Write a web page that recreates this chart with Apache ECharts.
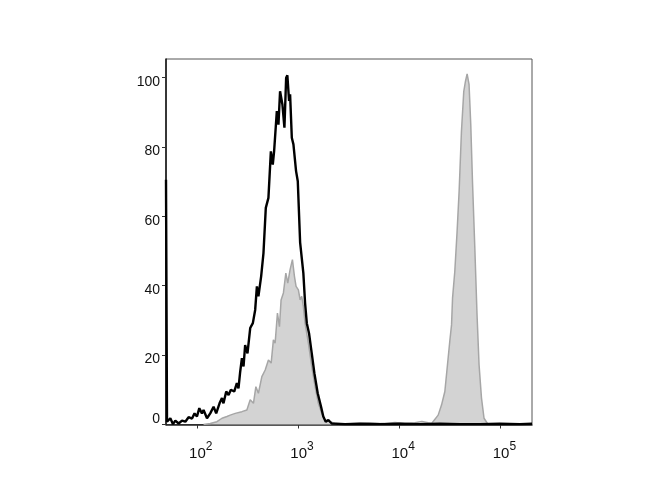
<!DOCTYPE html>
<html>
<head>
<meta charset="utf-8">
<script src="https://cdn.jsdelivr.net/npm/echarts@6/dist/echarts.min.js"></script>
<style>
  html, body { margin: 0; padding: 0; background: #fff; }
  #chart { width: 670px; height: 500px; }
</style>
</head>
<body>
<div id="chart"></div>
<script>
// x values are log10 of fluorescence intensity, y values are % of max
const xDecades = [2, 3, 4, 5];
const yTicks = [0, 20, 40, 60, 80, 100];
const xRange = [1.696, 5.312];
const yRange = [0, 105.3];

// unstained / isotype control (black open histogram)
const controlHist = [
  [1.696,70.5],[1.706,0.8],[1.739,1.8],[1.765,0.1],[1.788,1.1],[1.821,0.3],[1.854,1.1],[1.887,0.8],
  [1.919,2.1],[1.953,1.7],[1.978,3.2],[2.002,2.3],[2.025,4.7],[2.051,3.2],[2.067,4.2],[2.101,1.8],
  [2.133,3.2],[2.166,5.1],[2.192,3.2],[2.225,6.1],[2.249,7.6],[2.264,6.1],[2.291,9.5],[2.314,8.5],
  [2.337,10.0],[2.370,9.5],[2.396,11.9],[2.412,10.4],[2.429,15.2],[2.446,19.1],[2.462,16.7],[2.478,22.9],
  [2.501,20.5],[2.528,27.8],[2.554,29.2],[2.577,33.0],[2.594,39.8],[2.609,36.9],[2.636,42.7],[2.659,49.4],
  [2.682,62.4],[2.708,65.3],[2.732,78.7],[2.751,74.9],[2.764,78.7],[2.791,90.3],[2.807,86.4],[2.823,96.0],
  [2.846,92.2],[2.866,85.5],[2.883,99.9],[2.895,100.6],[2.912,93.2],[2.922,95.1],[2.939,82.6],[2.955,80.7],
  [2.981,73.0],[2.998,70.1],[3.021,52.5],[3.053,43.6],[3.070,35.0],[3.087,29.2],[3.109,26.3],[3.136,20.5],
  [3.162,14.8],[3.195,9.0],[3.228,5.1],[3.250,2.3],[3.274,0.8],[3.300,1.3],[3.333,0.3],[3.464,0.1],
  [3.612,0.2],[3.809,0.1],[4.007,0.2],[4.204,0.1],[4.401,0.2],[4.598,0.1],[4.796,0.1],[4.994,0.2],
  [5.191,0.1],[5.312,0.2]
];

// stained sample (grey filled histogram)
const stainedHist = [
  [2.067,0.0],[2.133,0.3],[2.199,0.8],[2.249,1.8],[2.298,2.3],[2.330,2.7],[2.380,3.2],[2.446,3.7],
  [2.495,4.2],[2.528,7.1],[2.560,6.1],[2.584,10.9],[2.609,9.0],[2.643,13.8],[2.676,15.7],[2.708,18.6],
  [2.735,17.7],[2.757,24.4],[2.774,23.4],[2.797,32.1],[2.817,28.2],[2.833,35.9],[2.856,37.9],[2.880,43.6],
  [2.899,40.7],[2.922,44.6],[2.945,47.5],[2.965,42.7],[2.981,39.8],[3.004,38.8],[3.021,35.9],[3.037,36.9],
  [3.053,34.0],[3.070,29.2],[3.103,23.4],[3.136,16.7],[3.169,10.9],[3.201,6.1],[3.235,3.2],[3.267,1.3],
  [3.317,0.8],[3.366,0.3],[3.514,0.2],[3.711,0.4],[3.859,0.2],[3.958,0.6],[4.056,0.3],[4.155,0.5],
  [4.224,0.9],[4.286,0.5],[4.320,0.3],[4.385,2.7],[4.418,5.6],[4.451,9.5],[4.483,19.0],[4.500,24.0],
  [4.517,28.7],[4.527,36.4],[4.549,44.0],[4.572,55.6],[4.592,67.2],[4.615,84.5],[4.638,96.0],[4.655,98.9],
  [4.671,101.0],[4.690,98.0],[4.707,86.4],[4.724,70.0],[4.747,50.9],[4.769,31.6],[4.789,17.2],[4.813,7.6],
  [4.838,1.8],[4.878,0.0]
];

const chart = echarts.init(document.getElementById('chart'));
const font = 'Liberation Sans, Arial, sans-serif';
chart.setOption({
  animation: false,
  backgroundColor: '#ffffff',
  grid: {
    left: 166, right: 138, top: 59, bottom: 75.5,
    show: true, borderColor: '#555', borderWidth: 1, backgroundColor: 'transparent'
  },
  xAxis: {
    type: 'value',
    min: xRange[0], max: xRange[1],
    splitLine: { show: false },
    axisLine: { show: true, onZero: false, lineStyle: { color: '#222', width: 1.5 } },
    axisTick: { show: true, customValues: xDecades, length: 4, lineStyle: { color: '#333' } },
    axisLabel: {
      customValues: xDecades,
      margin: 16,
      formatter: v => '{b|10}{e|' + v + '}',
      rich: {
        b: { fontSize: 15, fontFamily: font, color: '#111', padding: [0, 0, 0, 8] },
        e: { fontSize: 12, fontFamily: font, color: '#111', padding: [0, 0, 14, 0] }
      }
    }
  },
  yAxis: {
    type: 'value',
    min: yRange[0], max: yRange[1],
    splitLine: { show: false },
    axisLine: { show: true, lineStyle: { color: '#111', width: 1.5 } },
    axisTick: { show: true, customValues: yTicks, length: 4, lineStyle: { color: '#333' } },
    axisLabel: {
      customValues: yTicks,
      margin: 6,
      formatter: v => v === 0 ? '{z|0}' : '{n|' + v + '}',
      rich: {
        n: { fontSize: 14, fontFamily: font, color: '#111', padding: [9, 0, 0, 0] },
        z: { fontSize: 14, fontFamily: font, color: '#111', padding: [0, 0, 10, 0] }
      }
    }
  },
  series: [
    {
      type: 'line',
      data: stainedHist,
      showSymbol: false,
      silent: true,
      lineStyle: { color: '#a6a6a6', width: 1.5 },
      areaStyle: { color: '#d3d3d3', opacity: 1 },
      z: 2
    },
    {
      type: 'line',
      data: controlHist,
      showSymbol: false,
      silent: true,
      clip: false,
      lineStyle: { color: '#000000', width: 2.4 },
      z: 3
    }
  ]
});
</script>
</body>
</html>
